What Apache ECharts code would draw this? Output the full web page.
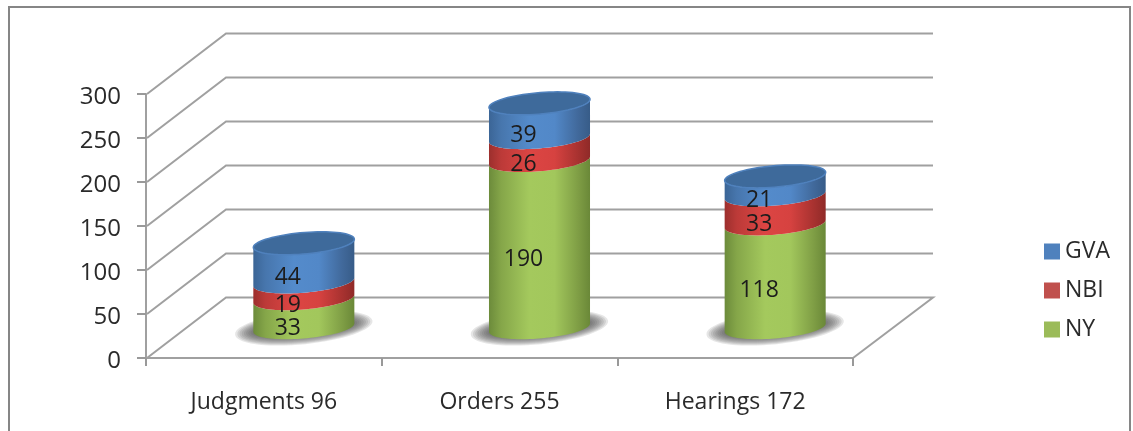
<!DOCTYPE html>
<html>
<head>
<meta charset="utf-8">
<style>
html, body { margin: 0; padding: 0; background: #fff; }
#chart { width: 1133px; height: 431px; }
</style>
<script src="https://cdn.jsdelivr.net/npm/echarts@6/dist/echarts.min.js"></script>
</head>
<body>
<div id="chart"></div>
<script>
// data
var categories = ['Judgments 96', 'Orders 255', 'Hearings 172'];
var nyValues = [33, 190, 118];
var nbiValues = [19, 26, 33];
var gvaValues = [44, 39, 21];
var yTicks = [0, 50, 100, 150, 200, 250, 300];

var FONT = '"Open Sans", sans-serif';
var TEXT = '#2a2a2a';
var GRID_LINE = '#a0a0a0';
// 3d wall offset, the cylinders stand half way in
var DEPTH_X = 80, DEPTH_Y = -60.5;
// ellipse of a cylinder section on the sheared floor
var RX = 47.2, SHEAR = 18, RY = 11.5;

function gradient(stops) {
    return new echarts.graphic.LinearGradient(0, 0, 1, 0, stops.map(function (s) {
        return { offset: s[0], color: s[1] };
    }));
}

var bodyFill = {
    GVA: gradient([[0, '#3b6596'], [0.12, '#4776ad'], [0.4, '#548bcb'], [0.65, '#5288c8'], [0.88, '#41699b'], [1, '#375c88']]),
    NBI: gradient([[0, '#9c2f2d'], [0.12, '#bc3a38'], [0.4, '#dc4543'], [0.65, '#d64240'], [0.88, '#a83230'], [1, '#8f2a28']]),
    NY: gradient([[0, '#6c8b3b'], [0.12, '#85a649'], [0.4, '#a4c95d'], [0.65, '#a2c75c'], [0.88, '#7f9e45'], [1, '#6a8838']])
};
var rimColor = { GVA: '#4f81bd', NBI: '#c0504d', NY: '#8fae50' };

function ellipsePoint(cx, cy, t) {
    return [cx + RX * Math.cos(t) + SHEAR * Math.sin(t), cy - RY * Math.sin(t)];
}

// front half of a section, right silhouette round the bottom to the left one
function frontArc(cx, cy) {
    var t0 = Math.atan2(SHEAR, RX);
    var pts = [];
    for (var i = 0; i <= 48; i++) {
        pts.push(ellipsePoint(cx, cy, t0 - Math.PI * i / 48));
    }
    return pts;
}

function renderCylinder(name, withTop, withShadow) {
    return function (params, api) {
        var i = api.value(0);
        var base = api.coord([i, api.value(1)]);
        var top = api.coord([i, api.value(2)]);
        var cx = base[0] + DEPTH_X / 2;
        var yb = base[1] + DEPTH_Y / 2;
        var yt = top[1] + DEPTH_Y / 2;
        var children = [];

        if (withShadow) {
            // soft floor shadow, stacked see-through ellipses
            for (var s = 0; s < 9; s++) {
                children.push({
                    type: 'ellipse',
                    shape: { cx: cx, cy: yb, rx: 69 - s * 2.2, ry: 16.5 - s * 1 },
                    rotation: 0.1,
                    originX: cx,
                    originY: yb,
                    style: { fill: 'rgba(80,80,80,0.14)' }
                });
            }
        }

        var lower = frontArc(cx, yb);
        var upper = frontArc(cx, yt).reverse();
        children.push({
            type: 'polygon',
            shape: { points: lower.concat(upper) },
            style: { fill: bodyFill[name], stroke: null }
        });

        if (withTop) {
            var ring = [];
            for (var k = 0; k < 72; k++) {
                ring.push(ellipsePoint(cx, yt, k / 72 * Math.PI * 2));
            }
            children.push({
                type: 'polygon',
                shape: { points: ring },
                style: { fill: '#3e6a9b', stroke: rimColor[name], lineWidth: 1.5 }
            });
        }

        var mid = api.coord([i, (api.value(1) + api.value(2)) / 2]);
        children.push({
            type: 'text',
            z2: 10,
            style: {
                text: String(api.value(2) - api.value(1)),
                x: cx - 16,
                y: mid[1] + DEPTH_Y / 2 + 15,
                align: 'center',
                verticalAlign: 'middle',
                font: '23px ' + FONT,
                fill: '#1c1c1c'
            }
        });
        return { type: 'group', children: children };
    };
}

function renderWalls(params, api) {
    var y = api.coord([0, api.value(0)])[1];
    var left = params.coordSys.x;
    var right = left + params.coordSys.width;
    var pts = [[left + 1, y], [left + DEPTH_X, y + DEPTH_Y], [right + DEPTH_X, y + DEPTH_Y]];
    if (api.value(0) === 0) {
        pts.push([right, y]);
    }
    return {
        type: 'polyline',
        shape: { points: pts },
        style: { stroke: GRID_LINE, lineWidth: 2, fill: null }
    };
}

function stacked() {
    var out = { NY: [], NBI: [], GVA: [] };
    categories.forEach(function (c, i) {
        out.NY.push([i, 0, nyValues[i]]);
        out.NBI.push([i, nyValues[i], nyValues[i] + nbiValues[i]]);
        out.GVA.push([i, nyValues[i] + nbiValues[i], nyValues[i] + nbiValues[i] + gvaValues[i]]);
    });
    return out;
}
var stack = stacked();

var chart = echarts.init(document.getElementById('chart'));
chart.setOption({
    animation: false,
    backgroundColor: '#ffffff',
    grid: { left: 146, top: 94, width: 707, height: 264 },
    legend: {
        orient: 'vertical',
        left: 1039,
        top: 235,
        itemWidth: 16,
        itemHeight: 16,
        itemGap: 16,
        icon: 'rect',
        data: ['GVA', 'NBI', 'NY'],
        textStyle: { fontFamily: FONT, fontSize: 23, color: TEXT }
    },
    xAxis: {
        type: 'category',
        data: categories,
        axisLine: { lineStyle: { color: GRID_LINE, width: 2 } },
        axisTick: { show: true, length: 8, lineStyle: { color: '#999', width: 2 } },
        axisLabel: { margin: 33, fontFamily: FONT, fontSize: 23, color: TEXT }
    },
    yAxis: {
        type: 'value',
        min: 0,
        max: 300,
        interval: 50,
        splitLine: { show: false },
        axisLine: { show: true, lineStyle: { color: GRID_LINE, width: 2 } },
        axisTick: { show: true, length: 9, lineStyle: { color: '#999', width: 2 } },
        axisLabel: {
            margin: 25,
            formatter: '{v|{value}}',
            rich: { v: { fontFamily: FONT, fontSize: 24, color: TEXT, padding: [6, 0, 0, 0] } }
        }
    },
    graphic: [{
        type: 'polyline',
        shape: { points: [[9, 431], [9, 7], [1130, 7], [1130, 431]] },
        style: { stroke: '#868686', lineWidth: 2, fill: null },
        silent: true
    }],
    series: [
        { type: 'custom', name: 'walls', data: yTicks.map(function (v) { return [v]; }), encode: { y: 0 }, renderItem: renderWalls, silent: true },
        { type: 'custom', name: 'NY', itemStyle: { color: '#9bbb59' }, data: stack.NY, encode: { x: 0, y: 2 }, renderItem: renderCylinder('NY', false, true) },
        { type: 'custom', name: 'NBI', itemStyle: { color: '#c0504d' }, data: stack.NBI, encode: { x: 0, y: 2 }, renderItem: renderCylinder('NBI', false, false) },
        { type: 'custom', name: 'GVA', itemStyle: { color: '#4f81bd' }, data: stack.GVA, encode: { x: 0, y: 2 }, renderItem: renderCylinder('GVA', true, false) }
    ]
});
</script>
</body>
</html>
